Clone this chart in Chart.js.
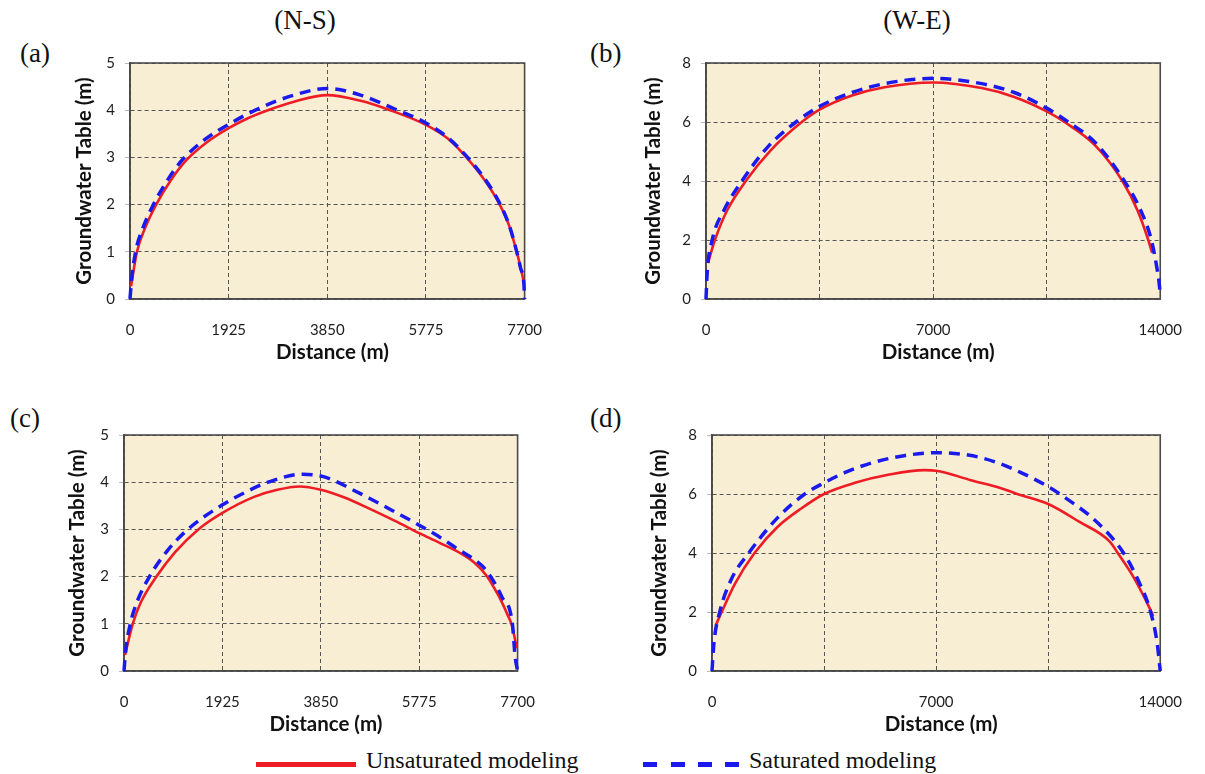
<!DOCTYPE html>
<html><head><meta charset="utf-8">
<script src="https://cdn.jsdelivr.net/npm/chart.js@4.4.1/dist/chart.umd.min.js"></script>
<style>
html,body{margin:0;padding:0;background:#fff;}
body{width:1205px;height:774px;position:relative;overflow:hidden;font-family:"Liberation Serif","Times New Roman",serif;}
canvas{position:absolute;}
.lab{position:absolute;font-size:27px;line-height:27px;color:#111;white-space:nowrap;}
.ctr{width:200px;text-align:center;}
.leg{position:absolute;font-size:24px;line-height:24px;color:#111;white-space:nowrap;}
</style></head><body>
<div class="lab ctr" style="left:205px;top:7px">(N-S)</div>
<div class="lab ctr" style="left:817px;top:7px">(W-E)</div>
<div class="lab" style="left:20px;top:40px">(a)</div>
<div class="lab" style="left:590px;top:40px">(b)</div>
<div class="lab" style="left:10px;top:405px">(c)</div>
<div class="lab" style="left:590px;top:405px">(d)</div>
<div style="position:absolute;left:256px;top:762px;width:100px;height:5px;background:#ee1c25"></div>
<div class="leg" style="left:366px;top:748px">Unsaturated modeling</div>
<div style="position:absolute;left:643px;top:762px;width:97px;height:5px;background:repeating-linear-gradient(90deg,#1a1aee 0 14px,transparent 14px 27.5px)"></div>
<div class="leg" style="left:749px;top:748px">Saturated modeling</div>
<script>
// ---- tick values / labels ----
const nsTicks = [0, 1925, 3850, 5775, 7700];
const nsTickLabels = ['0', '1925', '3850', '5775', '7700'];
const weTicks = [0, 3500, 7000, 10500, 14000];
const weTickLabels = ['0', '', '7000', '', '14000'];
const nsHeadTicks = [0, 1, 2, 3, 4, 5];
const weHeadTicks = [0, 2, 4, 6, 8];

// ---- panel (a) N-S ----
const aUnsatDist = [20, 136, 300, 511, 800, 1090, 1500, 1925, 2300, 2690, 3200, 3850, 4500, 5076, 5775, 6200, 6507, 6900, 7175, 7400, 7516, 7620, 7680];
const aUnsatHead = [0.27, 1.0, 1.52, 2.0, 2.52, 2.93, 3.32, 3.62, 3.83, 4.0, 4.18, 4.32, 4.2, 4.0, 3.69, 3.4, 3.07, 2.55, 2.08, 1.55, 1.12, 0.68, 0.38];
const aSatDist = [0, 30, 109, 250, 456, 750, 1022, 1450, 1925, 2521, 3200, 3850, 4500, 5178, 5775, 6200, 6521, 6900, 7189, 7400, 7523, 7620, 7686, 7700];
const aSatHead = [0, 0.4, 1.0, 1.5, 2.0, 2.55, 2.95, 3.37, 3.7, 4.04, 4.32, 4.46, 4.32, 4.02, 3.73, 3.42, 3.08, 2.58, 2.08, 1.56, 1.1, 0.66, 0.32, 0.0];

// ---- panel (b) W-E ----
const bUnsatDist = [60, 274, 650, 1226, 2000, 2952, 3500, 4500, 5500, 7000, 8500, 9500, 10500, 11048, 12000, 12833, 13300, 13631, 13750];
const bUnsatHead = [1.22, 2.0, 3.0, 4.0, 5.05, 6.0, 6.42, 6.9, 7.18, 7.34, 7.15, 6.85, 6.36, 6.0, 5.2, 4.0, 3.0, 2.0, 1.56];
const bSatDist = [0, 36, 190, 550, 1107, 1900, 2774, 3500, 4500, 5500, 7000, 8500, 9500, 10500, 11167, 12000, 12893, 13400, 13726, 13905, 13975, 14000];
const bSatHead = [0, 0.88, 2.0, 3.0, 4.0, 5.15, 6.0, 6.53, 7.0, 7.3, 7.48, 7.3, 7.0, 6.47, 6.0, 5.3, 4.0, 3.0, 2.0, 1.0, 0.45, 0.1];

// ---- panel (c) N-S ----
const cUnsatDist = [20, 171, 328, 635, 1000, 1454, 1925, 2546, 3000, 3434, 3850, 4300, 4799, 5300, 5775, 6164, 6573, 6850, 7085, 7324, 7500, 7584, 7686];
const cUnsatHead = [0.34, 1.0, 1.45, 2.0, 2.52, 3.0, 3.35, 3.69, 3.84, 3.91, 3.84, 3.68, 3.44, 3.18, 2.92, 2.72, 2.5, 2.3, 2.03, 1.6, 1.2, 0.98, 0.48];
const cSatDist = [0, 34, 123, 250, 498, 850, 1249, 1925, 2400, 2819, 3502, 3850, 4100, 4400, 4799, 5300, 5775, 6200, 6505, 6983, 7154, 7393, 7598, 7652, 7700];
const cSatHead = [0, 0.44, 1.0, 1.45, 2.0, 2.55, 3.0, 3.52, 3.8, 4.0, 4.17, 4.13, 4.04, 3.88, 3.66, 3.37, 3.09, 2.82, 2.6, 2.25, 2.03, 1.57, 1.0, 0.3, 0];

// ---- panel (d) W-E ----
const dUnsatDist = [121, 302, 724, 1328, 2052, 2776, 3500, 4466, 5500, 6638, 7000, 8086, 9052, 9534, 10500, 11466, 12431, 12672, 13155, 13638, 13782];
const dUnsatHead = [1.56, 2.0, 2.97, 4.0, 4.89, 5.5, 6.0, 6.38, 6.65, 6.81, 6.79, 6.47, 6.19, 6.0, 5.66, 5.06, 4.38, 4.0, 3.2, 2.2, 1.86];
const dSatDist = [0, 60, 241, 600, 1147, 2052, 2897, 3500, 4200, 5069, 6000, 7000, 8000, 8810, 9700, 10500, 10862, 12069, 12854, 13300, 13699, 13904, 14000];
const dSatHead = [0, 0.94, 2.0, 3.1, 4.0, 5.2, 6.0, 6.38, 6.75, 7.08, 7.3, 7.40, 7.32, 7.1, 6.7, 6.25, 6.0, 5.0, 4.0, 3.1, 2.0, 0.94, 0];

const seriesNames = ['Unsaturated modeling', 'Saturated modeling'];

function pts(xs, ys) { return xs.map((x, i) => ({x: x, y: ys[i]})); }

const framePlugin = {
  id: 'frame',
  beforeDraw(chart) {
    const {ctx, chartArea: a} = chart;
    ctx.save();
    ctx.fillStyle = '#f8eed3';
    ctx.fillRect(a.left, a.top, a.width, a.height);
    ctx.restore();
  },
  beforeDatasetsDraw(chart) {
    const {ctx, chartArea: a} = chart;
    ctx.save();
    ctx.strokeStyle = '#4a4a4a';
    ctx.lineWidth = 1.6;
    ctx.setLineDash([]);
    ctx.strokeRect(a.left, a.top, a.width, a.height);
    ctx.restore();
  }
};

const panels = [
  {left: 40, top: 38, width: 524, plotW: 404, height: 331, yPad: 32, xMax: 7700, xTicks: nsTicks, xLabels: nsTickLabels, yMax: 5, yTicks: nsHeadTicks,
   unsat: pts(aUnsatDist, aUnsatHead), sat: pts(aSatDist, aSatHead)},
  {left: 616, top: 38, width: 588, plotW: 470, height: 331, yPad: 25, xMax: 14000, xTicks: weTicks, xLabels: weTickLabels, yMax: 8, yTicks: weHeadTicks,
   unsat: pts(bUnsatDist, bUnsatHead), sat: pts(bSatDist, bSatHead)},
  {left: 34, top: 410, width: 523, plotW: 403, height: 331, yPad: 31, xMax: 7700, xTicks: nsTicks, xLabels: nsTickLabels, yMax: 5, yTicks: nsHeadTicks,
   unsat: pts(cUnsatDist, cUnsatHead), sat: pts(cSatDist, cSatHead)},
  {left: 622, top: 410, width: 582, plotW: 464, height: 331, yPad: 25, xMax: 14000, xTicks: weTicks, xLabels: weTickLabels, yMax: 8, yTicks: weHeadTicks,
   unsat: pts(dUnsatDist, dUnsatHead), sat: pts(dSatDist, dSatHead)}
];

const tickFont = {family: 'Lato', size: 15};
const titleFont = {family: 'Lato', size: 20.5, weight: 'bold'};

panels.forEach(p => {
  const cv = document.createElement('canvas');
  cv.width = p.width; cv.height = p.height;
  cv.style.left = p.left + 'px'; cv.style.top = p.top + 'px';
  cv.style.width = p.width + 'px'; cv.style.height = p.height + 'px';
  document.body.appendChild(cv);
  new Chart(cv, {
    type: 'line',
    data: {
      datasets: [
        {label: seriesNames[1], data: p.sat, borderColor: '#1a1aee', borderWidth: 3.5, borderDash: [11, 7],
         pointRadius: 0, cubicInterpolationMode: 'monotone', clip: false, fill: false},
        {label: seriesNames[0], data: p.unsat, borderColor: '#ee1c25', borderWidth: 2.6,
         pointRadius: 0, cubicInterpolationMode: 'monotone', clip: false, fill: false}
      ]
    },
    options: {
      responsive: false,
      animation: false,
      devicePixelRatio: 1,
      layout: {padding: {top: 25, right: p.width - 90 - p.plotW, left: 0, bottom: 0}},
      plugins: {legend: {display: false}, tooltip: {enabled: false}},
      scales: {
        x: {
          type: 'linear', min: 0, max: p.xMax,
          afterFit: s => { s.height = 70; },
          afterBuildTicks: s => { s.ticks = p.xTicks.map(v => ({value: v})); },
          ticks: {font: tickFont, color: '#1e1e1e', padding: 22, maxRotation: 0, autoSkip: false,
                  callback: (v, i) => p.xLabels[i]},
          grid: {color: '#555', lineWidth: 1, drawTicks: false, borderDash: [4, 3]},
          border: {display: true, color: '#4a4a4a', width: 1.6, dash: [4, 3]},
          title: {display: true, text: '\u2002Distance (m)', font: titleFont, color: '#111', padding: {top: 0, bottom: 4}}
        },
        y: {
          type: 'linear', min: 0, max: p.yMax,
          afterFit: s => { s.width = 90; },
          afterBuildTicks: s => { s.ticks = p.yTicks.map(v => ({value: v})); },
          ticks: {font: tickFont, color: '#1e1e1e', padding: 10, autoSkip: false},
          grid: {color: '#555', lineWidth: 1, drawTicks: true, tickLength: 5, tickColor: '#bbbbbb', tickBorderDash: [], borderDash: [4, 3]},
          border: {display: true, color: '#4a4a4a', width: 1.6, dash: [4, 3]},
          title: {display: true, text: 'Groundwater Table (m)', font: titleFont, color: '#111', padding: {top: p.yPad, bottom: 0}}
        }
      }
    },
    plugins: [framePlugin]
  });
});
</script>
</body></html>
